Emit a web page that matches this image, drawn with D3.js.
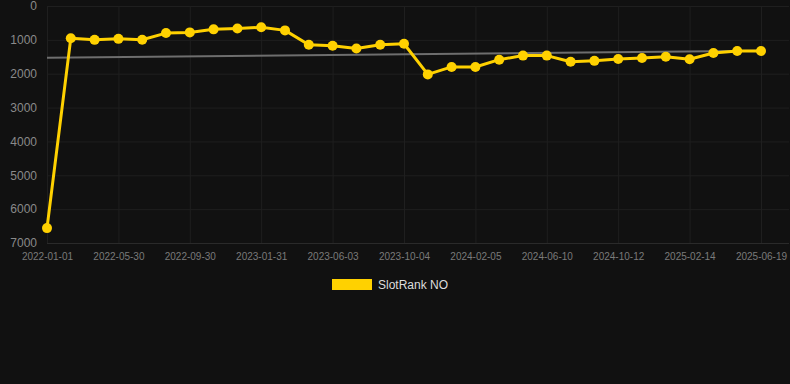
<!DOCTYPE html>
<html>
<head>
<meta charset="utf-8">
<script src="https://cdn.jsdelivr.net/npm/d3@7"></script>
<style>
  html, body { margin: 0; padding: 0; background: #111111; }
  svg { display: block; }
</style>
</head>
<body>
<svg id="chart" width="790" height="384"></svg>
<script>
const dates = [
  "2022-01-01","2022-03-09","2022-04-19","2022-05-30","2022-07-10","2022-08-20",
  "2022-09-30","2022-11-10","2022-12-21","2023-01-31","2023-03-13","2023-04-23",
  "2023-06-03","2023-07-14","2023-08-24","2023-10-04","2023-11-14","2023-12-25",
  "2024-02-05","2024-03-17","2024-04-29","2024-06-10","2024-07-21","2024-08-31",
  "2024-10-12","2024-11-22","2025-01-03","2025-02-14","2025-03-27","2025-05-08",
  "2025-06-19"
];
const rankValues = [
  6560, 950, 1000, 970, 995, 800, 780, 690, 665, 630, 720, 1145,
  1175, 1255, 1145, 1115, 2020, 1800, 1800, 1585, 1465, 1465, 1645, 1620,
  1565, 1535, 1500, 1575, 1390, 1330, 1330
];
const trendValues = [1525, 1325];
const yTicks = [0, 1000, 2000, 3000, 4000, 5000, 6000, 7000];
const xTickLabels = ["2022-01-01","2022-05-30","2022-09-30","2023-01-31","2023-06-03",
  "2023-10-04","2024-02-05","2024-06-10","2024-10-12","2025-02-14","2025-06-19"];
const seriesName = "SlotRank NO";

(function () {
const svg = d3.select("#chart");
const mLeft = 47, mRight = 761, mTop = 6, mBottom = 243;

const x = d3.scalePoint().domain(dates).range([mLeft, mRight]);
const y = d3.scaleLinear().domain([0, 7000]).range([mTop, mBottom]);

// grid
const grid = svg.append("g");
grid.selectAll("line.h").data(yTicks).enter().append("line")
  .attr("x1", mLeft).attr("x2", mRight + 28)
  .attr("y1", d => y(d) + 0.5).attr("y2", d => y(d) + 0.5)
  .attr("stroke", d => d === 7000 ? "#2a2a2a" : "#1f1f1f").attr("stroke-width", 1);
grid.selectAll("line.v").data(xTickLabels).enter().append("line")
  .attr("x1", d => x(d) + 0.5).attr("x2", d => x(d) + 0.5)
  .attr("y1", mTop).attr("y2", mBottom)
  .attr("stroke", "#1f1f1f").attr("stroke-width", 1);

// y axis
const yAxis = d3.axisLeft(y).tickValues(yTicks).tickSize(0).tickPadding(0).tickFormat(d3.format("d"));
const gy = svg.append("g").attr("transform", "translate(37,0)").call(yAxis);
gy.select(".domain").remove();
gy.selectAll("text").attr("fill", "#8a8a8a").style("font-family", "Arial, 'Liberation Sans', sans-serif").style("font-size", "12px");

// x axis
const xAxis = d3.axisBottom(x).tickValues(xTickLabels).tickSize(0).tickPadding(0);
const gx = svg.append("g").attr("transform", `translate(0,${mBottom + 10})`).call(xAxis);
gx.select(".domain").remove();
gx.selectAll("text").attr("fill", "#7a7a7a").attr("dy", "0.71em").style("font-family", "Arial, 'Liberation Sans', sans-serif").style("font-size", "10px");

// trend line
svg.append("line")
  .attr("x1", x(dates[0])).attr("x2", x(dates[dates.length - 1]))
  .attr("y1", y(trendValues[0])).attr("y2", y(trendValues[1]))
  .attr("stroke", "#6e6e6e").attr("stroke-width", 2);

// series line
const line = d3.line().x((d, i) => x(dates[i])).y(d => y(d));
svg.append("path").datum(rankValues)
  .attr("d", line).attr("fill", "none")
  .attr("stroke", "#FFD100").attr("stroke-width", 3).attr("stroke-linejoin", "round");

svg.append("g").selectAll("circle").data(rankValues).enter().append("circle")
  .attr("cx", (d, i) => x(dates[i])).attr("cy", d => y(d))
  .attr("r", 5).attr("fill", "#FFD100");

// legend
svg.append("rect").attr("x", 332).attr("y", 279).attr("width", 40).attr("height", 11).attr("fill", "#FFD100");
svg.append("text").attr("x", 378).attr("y", 289).text(seriesName)
  .attr("fill", "#dddddd").style("font-family", "Arial, 'Liberation Sans', sans-serif").style("font-size", "12px");
})();
</script>
</body>
</html>
